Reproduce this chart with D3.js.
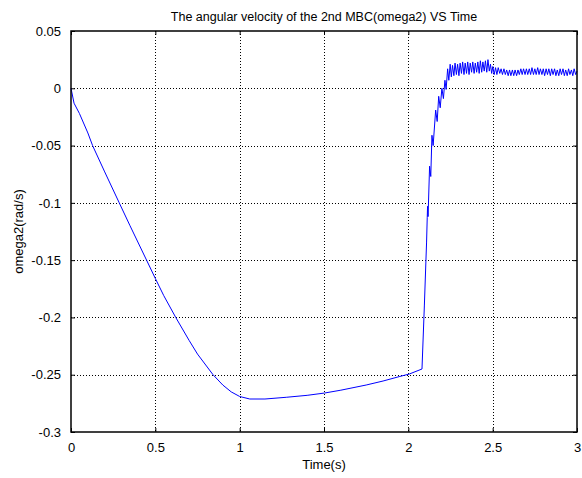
<!DOCTYPE html>
<html>
<head>
<meta charset="utf-8">
<script src="https://cdn.jsdelivr.net/npm/d3@7"></script>
<style>
  html, body { margin: 0; padding: 0; background: #fff; }
  svg { display: block; font-family: "Liberation Sans", Arial, sans-serif; }
</style>
</head>
<body>
<svg id="chart" width="582" height="478"></svg>
<script>
// ---- data ----
const titleText = "The angular velocity of the 2nd MBC(omega2) VS Time";
const xLabelText = "Time(s)";
const yLabelText = "omega2(rad/s)";
const xTicks = [0, 0.5, 1, 1.5, 2, 2.5, 3];
const xTickLabels = ["0", "0.5", "1", "1.5", "2", "2.5", "3"];
const yTicks = [0.05, 0, -0.05, -0.1, -0.15, -0.2, -0.25, -0.3];
const yTickLabels = ["0.05", "0", "-0.05", "-0.1", "-0.15", "-0.2", "-0.25", "-0.3"];

const timeS = [
  0, 0.018, 0.05, 0.1, 0.128, 0.2, 0.286, 0.35, 0.448, 0.5, 0.55, 0.621, 0.7, 0.75,
  0.842, 0.9, 0.95, 1.0, 1.06, 1.15, 1.276, 1.4, 1.503, 1.6, 1.75, 1.85, 1.95, 2.006,
  2.081, 2.095, 2.108, 2.112, 2.114, 2.117, 2.126, 2.133, 2.140, 2.147, 2.162, 2.171,
  2.180, 2.189, 2.199, 2.208, 2.217, 2.224, 2.233, 2.240, 2.248, 2.255, 2.262, 2.270,
  2.277, 2.285, 2.292, 2.300, 2.307, 2.315, 2.322, 2.330, 2.337, 2.345, 2.352, 2.360,
  2.367, 2.375, 2.382, 2.390, 2.397, 2.405, 2.412, 2.420, 2.427, 2.435, 2.442, 2.450,
  2.457, 2.465, 2.472, 2.480, 2.487, 2.494, 2.501,
  2.509, 2.517, 2.525, 2.533, 2.542, 2.550, 2.558, 2.567, 2.575, 2.583, 2.592, 2.600,
  2.608, 2.617, 2.625, 2.633, 2.642, 2.650, 2.658, 2.667, 2.675, 2.683, 2.692, 2.700,
  2.708, 2.717, 2.725, 2.733, 2.742, 2.750, 2.758, 2.767, 2.775, 2.783, 2.792, 2.800,
  2.808, 2.817, 2.825, 2.833, 2.842, 2.850, 2.858, 2.867, 2.875, 2.883, 2.892, 2.900,
  2.908, 2.917, 2.925, 2.933, 2.942, 2.950, 2.958, 2.967, 2.975, 2.983, 2.992, 3.000
];
const omega2 = [
  0, -0.013, -0.022, -0.039, -0.05, -0.073, -0.1, -0.12, -0.15, -0.166, -0.181, -0.2, -0.22, -0.232,
  -0.25, -0.259, -0.265, -0.269, -0.2712, -0.2712, -0.2697, -0.268, -0.266, -0.2635, -0.259, -0.2555, -0.2515, -0.2494,
  -0.245, -0.19, -0.135, -0.113, -0.103, -0.112, -0.068, -0.077, -0.041, -0.05, -0.019, -0.029,
  -0.007, -0.017, 0.0, -0.009, 0.007, -0.001, 0.017, 0.007, 0.021, 0.010, 0.020, 0.011,
  0.022, 0.012, 0.021, 0.011, 0.022, 0.013, 0.023, 0.012, 0.022, 0.013, 0.023, 0.012,
  0.022, 0.014, 0.023, 0.013, 0.022, 0.014, 0.023, 0.013, 0.024, 0.014, 0.023, 0.015,
  0.024, 0.014, 0.025, 0.015, 0.021, 0.013, 0.019,
  0.012, 0.018, 0.012, 0.018, 0.013, 0.017, 0.012, 0.017, 0.012, 0.016, 0.011, 0.016,
  0.011, 0.016, 0.011, 0.016, 0.011, 0.016, 0.012, 0.017, 0.012, 0.017, 0.012, 0.017,
  0.012, 0.017, 0.012, 0.018, 0.012, 0.017, 0.012, 0.018, 0.012, 0.017, 0.012, 0.017,
  0.011, 0.017, 0.012, 0.017, 0.011, 0.017, 0.012, 0.017, 0.011, 0.016, 0.011, 0.017,
  0.012, 0.017, 0.011, 0.016, 0.011, 0.017, 0.012, 0.016, 0.011, 0.017, 0.012, 0.015
];

// ---- layout ----
const svg = d3.select("#chart");
const L = 71, R = 577, T = 31, B = 432;
const x = d3.scaleLinear().domain([0, 3]).range([L, R]);
const y = d3.scaleLinear().domain([-0.3, 0.05]).range([B, T]);

svg.append("rect").attr("width", 582).attr("height", 478).attr("fill", "#fff");

// grid
const grid = svg.append("g").attr("stroke", "#000").attr("stroke-width", 1)
  .attr("stroke-dasharray", "1,2").attr("shape-rendering", "crispEdges");
grid.selectAll("line.gx").data(xTicks.slice(1, -1)).join("line")
  .attr("x1", d => Math.round(x(d)) + 0.5).attr("x2", d => Math.round(x(d)) + 0.5)
  .attr("y1", T).attr("y2", B);
grid.selectAll("line.gy").data(yTicks.slice(1, -1)).join("line")
  .attr("y1", d => Math.round(y(d)) + 0.5).attr("y2", d => Math.round(y(d)) + 0.5)
  .attr("x1", L).attr("x2", R);

// axes (ticks inward)
const xAxis = d3.axisBottom(x).tickValues(xTicks)
  .tickFormat((d, i) => xTickLabels[i]).tickSizeInner(-4).tickSizeOuter(0).tickPadding(11);
const yAxis = d3.axisLeft(y).tickValues(yTicks)
  .tickFormat((d, i) => yTickLabels[i]).tickSizeInner(-4).tickSizeOuter(0).tickPadding(10);

const gx = svg.append("g").attr("transform", `translate(0,${B})`).call(xAxis);
const gy = svg.append("g").attr("transform", `translate(${L},0)`).call(yAxis);
[gx, gy].forEach(g => {
  g.select(".domain").remove();
  g.selectAll("text").attr("font-size", 13).attr("fill", "#000")
    .attr("font-family", "'Liberation Sans', Arial, sans-serif");
  g.selectAll("line").attr("stroke", "#000");
});
// top and right ticks
const gx2 = svg.append("g").attr("transform", `translate(0,${T})`)
  .call(d3.axisTop(x).tickValues(xTicks).tickFormat("").tickSizeInner(-4).tickSizeOuter(0));
const gy2 = svg.append("g").attr("transform", `translate(${R},0)`)
  .call(d3.axisRight(y).tickValues(yTicks).tickFormat("").tickSizeInner(-4).tickSizeOuter(0));
[gx2, gy2].forEach(g => { g.select(".domain").remove(); g.selectAll("line").attr("stroke", "#000"); });

// data line
const line = d3.line().x((d, i) => x(timeS[i])).y((d, i) => y(omega2[i]));
svg.append("path").datum(omega2)
  .attr("d", line).attr("fill", "none").attr("stroke", "#0000ff").attr("stroke-width", 1);

// box
svg.append("rect").attr("x", L).attr("y", T).attr("width", R - L).attr("height", B - T)
  .attr("fill", "none").attr("stroke", "#000").attr("stroke-width", 1.5);

// texts
svg.append("text").attr("x", 324).attr("y", 21).attr("text-anchor", "middle")
  .attr("font-size", 12.5).text(titleText);
svg.append("text").attr("x", 324).attr("y", 469).attr("text-anchor", "middle")
  .attr("font-size", 13).text(xLabelText);
svg.append("text").attr("transform", `translate(23,${(T + B) / 2}) rotate(-90)`)
  .attr("text-anchor", "middle").attr("font-size", 13).text(yLabelText);
</script>
</body>
</html>
